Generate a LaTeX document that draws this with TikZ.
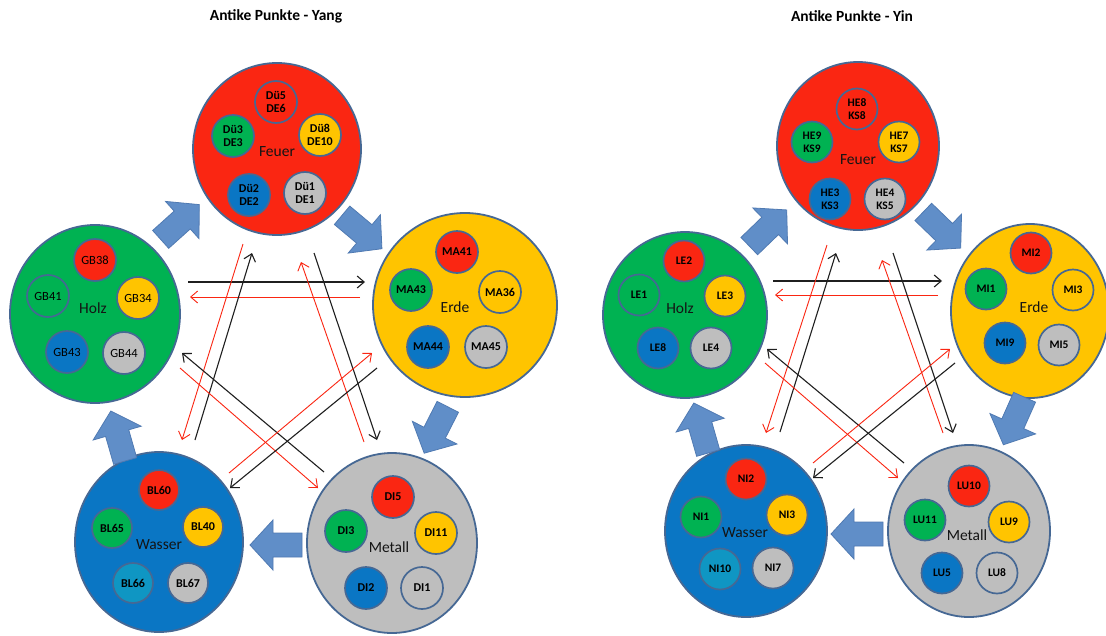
\documentclass[tikz,border=0pt]{standalone}
\usepackage{fontspec}
\setmainfont{Carlito}
\usetikzlibrary{arrows.meta,shapes.geometric}
\definecolor{cRed}{RGB}{250,38,18}
\definecolor{cGreen}{RGB}{0,178,82}
\definecolor{cYellow}{RGB}{255,196,0}
\definecolor{cBlue}{RGB}{10,118,196}
\definecolor{cGray}{RGB}{190,190,190}
\definecolor{cTeal}{RGB}{15,150,195}
\definecolor{cEdge}{RGB}{70,104,148}
\definecolor{cArrow}{RGB}{96,142,200}
\definecolor{cArrowEdge}{RGB}{80,122,178}
\newcommand{\blockarr}[3]{%
  \draw[blockar, shift={(#1,#2)}, rotate=#3] (26,0) -- (3,25) -- (3,12) -- (-26,12) -- (-26,-12) -- (3,-12) -- (3,-25) -- cycle;}
\tikzset{
  bigc/.style={ellipse, draw=cEdge, line width=1.8pt, inner sep=0pt},
  smallc/.style={circle, draw=cEdge, line width=1.7pt, minimum size=42pt, inner sep=0pt, align=center,
     font=\bfseries\fontsize{12}{13.5}\selectfont, text=black},
  smallr/.style={smallc, minimum size=41pt, font=\bfseries\fontsize{11.5}{13}\selectfont},
  smallreg/.style={smallc, font=\fontsize{12.5}{14}\selectfont},
  biglab/.style={font=\fontsize{15.5}{18}\selectfont, text=black!92, inner sep=0pt},
  titlelab/.style={font=\bfseries\fontsize{15.5}{18}\selectfont, inner sep=0pt},
  blockar/.style={fill=cArrow, draw=cArrowEdge, line width=0.8pt, line join=miter},
  thinblk/.style={draw=black!88, line width=1.1pt, -{Straight Barb[length=7pt,width=12pt]}},
  thinred/.style={draw=cRed, line width=0.9pt, -{Straight Barb[length=7pt,width=12pt]}}
}
\begin{document}
\begin{tikzpicture}[x=1pt,y=-1pt]
\useasboundingbox (0,0) rectangle (1106,635);
\fill[white] (0,0) rectangle (1106,635);

% ================= LEFT: Yang =================
\node[titlelab] (tL) at (276,16) {Antike Punkte - Yang};

% Feuer
\node[bigc, fill=cRed, minimum width=168pt, minimum height=172pt] (FL) at (277,149) {};
\node[smallc, fill=cRed] (FL1) at (276,102) {Dü5\\DE6};
\node[smallc, fill=cGreen] (FL2) at (233,136) {Dü3\\DE3};
\node[smallc, fill=cYellow] (FL3) at (320,135) {Dü8\\DE10};
\node[smallc, fill=cBlue] (FL4) at (249,195) {Dü2\\DE2};
\node[smallc, fill=cGray] (FL5) at (305,193) {Dü1\\DE1};
\node[biglab] (FLt) at (277,152) {Feuer};

% Holz
\node[bigc, fill=cGreen, minimum width=170pt, minimum height=178pt] (HL) at (95,314) {};
\node[smallreg, fill=cRed] (HL1) at (95,260) {GB38};
\node[smallreg, fill=cGreen] (HL2) at (48,296) {GB41};
\node[smallreg, fill=cYellow] (HL3) at (138,298) {GB34};
\node[smallreg, fill=cBlue] (HL4) at (67,352) {GB43};
\node[smallreg, fill=cGray] (HL5) at (124,353) {GB44};
\node[biglab] (HLt) at (93,308) {Holz};

% Erde
\node[bigc, fill=cYellow, minimum width=184pt, minimum height=184pt] (EL) at (465,305) {};
\node[smallc, fill=cRed] (EL1) at (457,252) {MA41};
\node[smallc, fill=cGreen] (EL2) at (411,290) {MA43};
\node[smallc, fill=cYellow] (EL3) at (500,292) {MA36};
\node[smallc, fill=cBlue] (EL4) at (428,347) {MA44};
\node[smallc, fill=cGray] (EL5) at (486,347) {MA45};
\node[biglab] (ELt) at (455,307) {Erde};

% Wasser
\node[bigc, fill=cBlue, minimum width=168pt, minimum height=180pt] (WL) at (159,542) {};
\node[smallc, fill=cRed, minimum size=40pt] (WL1) at (159,490) {BL60};
\node[smallc, fill=cGreen, minimum size=40pt] (WL2) at (112,528) {BL65};
\node[smallc, fill=cYellow, minimum size=40pt] (WL3) at (203,527) {BL40};
\node[smallc, fill=cTeal, minimum size=40pt] (WL4) at (133,583) {BL66};
\node[smallc, fill=cGray, minimum size=40pt] (WL5) at (188,583) {BL67};
\node[biglab] (WLt) at (159,545) {Wasser};

% Metall
\node[bigc, fill=cGray, minimum width=170pt, minimum height=180pt] (ML) at (392,543) {};
\node[smallc, fill=cRed] (ML1) at (393,497) {DI5};
\node[smallc, fill=cGreen] (ML2) at (346,531) {DI3};
\node[smallc, fill=cYellow] (ML3) at (436,533) {DI11};
\node[smallc, fill=cBlue] (ML4) at (366,588) {DI2};
\node[smallc, fill=cGray] (ML5) at (422,588) {DI1};
\node[biglab] (MLt) at (389,547) {Metall};

% block arrows (cycle)
\blockarr{180}{222}{42}
\blockarr{362}{232}{-40}
\blockarr{436}{430}{-117}
\blockarr{276}{545}{180}
\blockarr{118}{436}{106}

% thin arrows
\coordinate (la1) at (188,282); \coordinate (la2) at (365,282);
\coordinate (lb1) at (360,297); \coordinate (lb2) at (190,297);
\coordinate (lc1) at (195,440); \coordinate (lc2) at (252,253);
\coordinate (ld1) at (243,244); \coordinate (ld2) at (182,440);
\coordinate (le1) at (314,253); \coordinate (le2) at (377,440);
\coordinate (lf1) at (364,442); \coordinate (lf2) at (301,262);
\coordinate (lg1) at (324,472); \coordinate (lg2) at (182,353);
\coordinate (lh1) at (180,368); \coordinate (lh2) at (318,488);
\coordinate (li1) at (229,473); \coordinate (li2) at (372,353);
\coordinate (lj1) at (377,368); \coordinate (lj2) at (230,488);
\draw[thinblk] (la1) -- (la2);
\draw[thinred] (lb1) -- (lb2);
\draw[thinblk] (lc1) -- (lc2);
\draw[thinred] (ld1) -- (ld2);
\draw[thinblk] (le1) -- (le2);
\draw[thinred] (lf1) -- (lf2);
\draw[thinblk] (lg1) -- (lg2);
\draw[thinred] (lh1) -- (lh2);
\draw[thinred] (li1) -- (li2);
\draw[thinblk] (lj1) -- (lj2);

% ================= RIGHT: Yin =================
\node[titlelab] (tR) at (852,16) {Antike Punkte - Yin};

% Feuer
\node[bigc, fill=cRed, minimum width=162pt, minimum height=168pt] (FR) at (858,146) {};
\node[smallr, fill=cRed] (FR1) at (857,109) {HE8\\KS8};
\node[smallr, fill=cGreen] (FR2) at (812,142) {HE9\\KS9};
\node[smallr, fill=cYellow] (FR3) at (899,142) {HE7\\KS7};
\node[smallr, fill=cBlue] (FR4) at (830,199) {HE3\\KS3};
\node[smallr, fill=cGray] (FR5) at (885,199) {HE4\\KS5};
\node[biglab] (FRt) at (858,160) {Feuer};

% Holz
\node[bigc, fill=cGreen, minimum width=164pt, minimum height=166pt] (HR) at (685,315) {};
\node[smallr, fill=cRed] (HR1) at (684,261) {LE2};
\node[smallr, fill=cGreen] (HR2) at (639,295) {LE1};
\node[smallr, fill=cYellow] (HR3) at (725,296) {LE3};
\node[smallr, fill=cBlue] (HR4) at (658,348) {LE8};
\node[smallr, fill=cGray] (HR5) at (711,348) {LE4};
\node[biglab] (HRt) at (680,308) {Holz};

% Erde
\node[bigc, fill=cYellow, minimum width=158pt, minimum height=174pt] (ER) at (1030,311) {};
\node[smallr, fill=cRed] (ER1) at (1031,253) {MI2};
\node[smallr, fill=cGreen] (ER2) at (986,289) {MI1};
\node[smallr, fill=cYellow] (ER3) at (1073,290) {MI3};
\node[smallr, fill=cBlue] (ER4) at (1005,343) {MI9};
\node[smallr, fill=cGray] (ER5) at (1059,345) {MI5};
\node[biglab] (ERt) at (1034,307) {Erde};

% Wasser
\node[bigc, fill=cBlue, minimum width=162pt, minimum height=172pt] (WR) at (746,531) {};
\node[smallr, fill=cRed] (WR1) at (746,479) {NI2};
\node[smallr, fill=cGreen] (WR2) at (701,517) {NI1};
\node[smallr, fill=cYellow] (WR3) at (787,515) {NI3};
\node[smallr, fill=cTeal] (WR4) at (720,569) {NI10};
\node[smallr, fill=cGray] (WR5) at (773,568) {NI7};
\node[biglab] (WRt) at (745,533) {Wasser};

% Metall
\node[bigc, fill=cGray, minimum width=162pt, minimum height=172pt] (MR) at (969,531) {};
\node[smallr, fill=cRed] (MR1) at (969,486) {LU10};
\node[smallr, fill=cGreen] (MR2) at (925,520) {LU11};
\node[smallr, fill=cYellow] (MR3) at (1009,522) {LU9};
\node[smallr, fill=cBlue] (MR4) at (942,573) {LU5};
\node[smallr, fill=cGray] (MR5) at (997,573) {LU8};
\node[biglab] (MRt) at (967,535) {Metall};

% block arrows (cycle)
\blockarr{768}{228}{44}
\blockarr{942}{230}{-44}
\blockarr{1014}{421}{-114}
\blockarr{857}{534}{180}
\blockarr{701}{428}{106}

% thin arrows
\coordinate (ra1) at (773,281); \coordinate (ra2) at (942,281);
\coordinate (rb1) at (938,295); \coordinate (rb2) at (775,295);
\coordinate (rc1) at (780,432); \coordinate (rc2) at (836,253);
\coordinate (rd1) at (827,245); \coordinate (rd2) at (766,433);
\coordinate (re1) at (893,253); \coordinate (re2) at (953,433);
\coordinate (rf1) at (943,433); \coordinate (rf2) at (882,260);
\coordinate (rg1) at (904,463); \coordinate (rg2) at (767,349);
\coordinate (rh1) at (765,363); \coordinate (rh2) at (898,478);
\coordinate (ri1) at (813,463); \coordinate (ri2) at (950,349);
\coordinate (rj1) at (955,363); \coordinate (rj2) at (813,478);
\draw[thinblk] (ra1) -- (ra2);
\draw[thinred] (rb1) -- (rb2);
\draw[thinblk] (rc1) -- (rc2);
\draw[thinred] (rd1) -- (rd2);
\draw[thinblk] (re1) -- (re2);
\draw[thinred] (rf1) -- (rf2);
\draw[thinblk] (rg1) -- (rg2);
\draw[thinred] (rh1) -- (rh2);
\draw[thinred] (ri1) -- (ri2);
\draw[thinblk] (rj1) -- (rj2);
\end{tikzpicture}
\end{document}
